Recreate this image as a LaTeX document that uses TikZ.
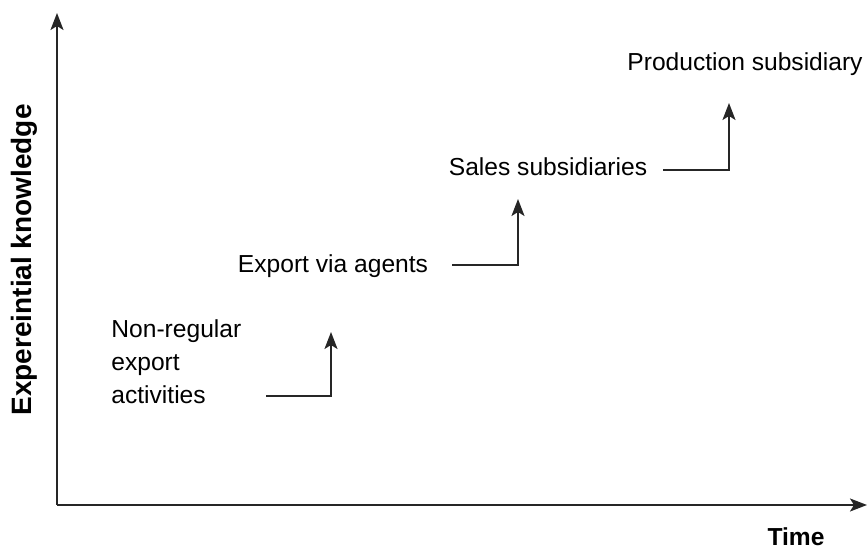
\documentclass[tikz,border=0pt]{standalone}
\usepackage{fontspec}
\setmainfont{Liberation Sans}
\usetikzlibrary{positioning,calc,arrows.meta}
\tikzset{stage/.style={font=\fontsize{12.3}{16.5}\selectfont, inner sep=0pt}}
\tikzset{axis label/.style={font=\fontsize{12.3}{15}\selectfont\bfseries, inner sep=0pt}}
\tikzset{step arrow/.style={-{Stealth[length=8.5pt,width=6.5pt,inset=2pt]}, line width=1pt, draw=black!85}}

\begin{document}
\begin{tikzpicture}[x=0.5pt,y=0.5pt]
\useasboundingbox (0,0) rectangle (868,550);
\coordinate (origin) at (57,45);
\coordinate (ytop) at (57,537);
\coordinate (xend) at (867,45);
\draw[step arrow] (origin) -- (ytop);
\draw[step arrow] (origin) -- (xend);
\node[axis label] (time) at (796,13) {Time};
\node[axis label, font=\fontsize{14}{16}\selectfont\bfseries, rotate=90] (know) at (24,290) {Expereintial knowledge};

\node[stage, align=left, anchor=west] (nonreg) at (111,188) {Non-regular\\export\\activities};
\node[stage] (agents) at (333,284) {Export via agents};
\node[stage] (sales) at (548,383) {Sales subsidiaries};
\node[stage] (prod) at (745,486) {Production subsidiary};

% steps between the stages
\coordinate (step1 start) at (266,154);
\coordinate (step1 end) at (331,218);
\draw[step arrow] (step1 start) -| (step1 end);
\coordinate (step2 start) at (452,285);
\coordinate (step2 end) at (518,351);
\draw[step arrow] (step2 start) -| (step2 end);
\coordinate (step3 start) at (663,380);
\coordinate (step3 end) at (729,447);
\draw[step arrow] (step3 start) -| (step3 end);
\end{tikzpicture}
\end{document}
